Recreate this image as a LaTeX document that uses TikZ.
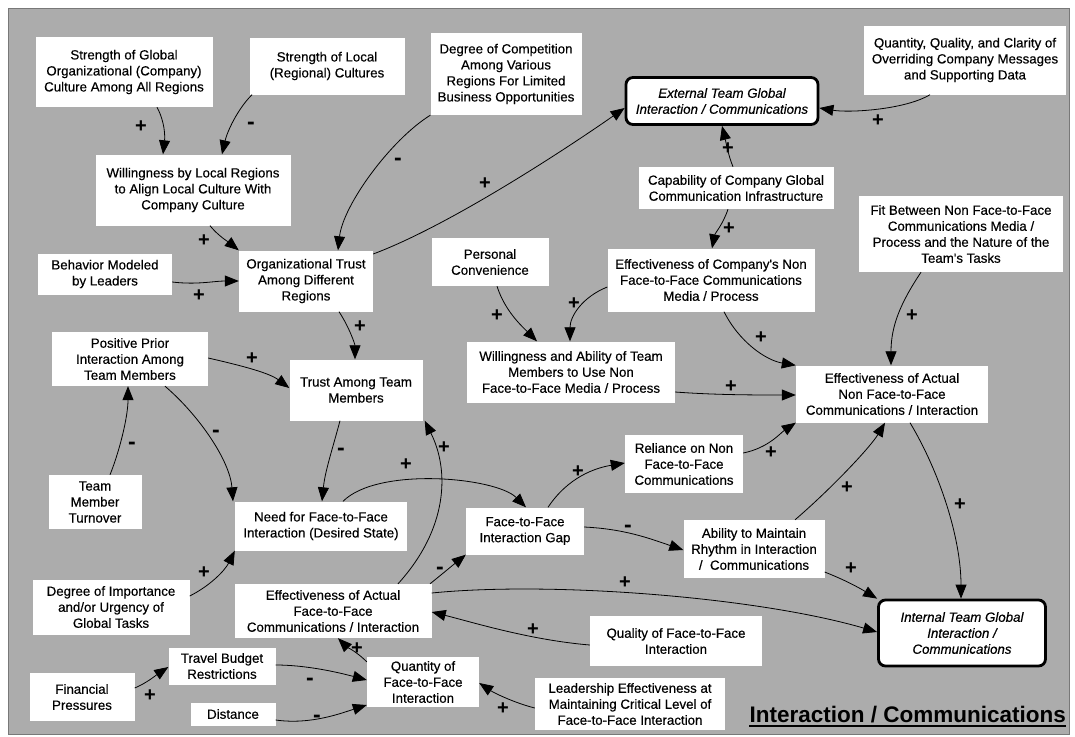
\documentclass[tikz,border=0pt]{standalone}
\usepackage{fontspec}
\setmainfont{Liberation Sans}
\newfontfamily\boxfont{Liberation Sans}[FakeBold=0.35]
\usetikzlibrary{arrows.meta}
\definecolor{panel}{RGB}{172,172,172}
\definecolor{rim}{RGB}{120,120,120}
\begin{document}
\begin{tikzpicture}[x=1pt,y=-1pt,
  box/.style 2 args={fill=white, align=center, inner sep=0pt,
    minimum width=#1pt, minimum height=#2pt,
    font=\boxfont\fontsize{13.3}{16}\selectfont},
  hub/.style 2 args={box={#1}{#2}, draw=black, line width=2.8pt,
    rounded corners=7pt, font=\boxfont\fontsize{13.3}{16}\selectfont\itshape},
  arr/.style={draw=black, line width=0.8pt, -{Triangle[length=14pt,width=11pt]}},
  posl/.style={inner sep=0pt, anchor=base, yshift=-6.8pt,
    font=\bfseries\fontsize{20}{20}\selectfont},
  negl/.style={inner sep=0pt, anchor=base, yshift=-5.6pt,
    font=\bfseries\fontsize{23}{23}\selectfont}]

\useasboundingbox (0,0) rectangle (1075,736);
\fill[white] (0,0) rectangle (1075,736);
\fill[panel] (8,8) rectangle (1069,734);
\draw[rim, line width=0.8pt] (8,8) rectangle (1069,734);

% ---- variables ----
\node[box={177}{70}] (gcult) at (124,72) {Strength of Global\\Organizational (Company)\\Culture Among All Regions};
\node[box={155}{57}] (lcult) at (327,66) {Strength of Local\\(Regional) Cultures};
\node[box={151}{82}] (compet) at (506,74) {Degree of Competition\\Among Various\\Regions For Limited\\Business Opportunities};
\node[hub={192}{47}] (ext) at (722,101) {External Team Global\\Interaction / Communications};
\node[box={202}{69}] (msgs) at (965,60) {Quantity, Quality, and Clarity of\\Overriding Company Messages\\and Supporting Data};
\node[box={195}{71}] (align) at (193,190) {Willingness by Local Regions\\to Align Local Culture With\\Company Culture};
\node[box={195}{42}] (infra) at (736,188) {Capability of Company Global\\Communication Infrastructure};
\node[box={204}{76}] (fit) at (961,234) {Fit Between Non Face-to-Face\\Communications Media /\\Process and the Nature of the\\Team's Tasks};
\node[box={134}{41}] (behav) at (105,274) {Behavior Modeled\\by Leaders};
\node[box={134}{61}] (orgtrust) at (306,281) {Organizational Trust\\Among Different\\Regions};
\node[box={117}{48}] (pers) at (490,262) {Personal\\Convenience};
\node[box={207}{63}] (effco) at (711,280) {Effectiveness of Company's Non\\Face-to-Face Communications\\Media / Process};
\node[box={156}{54}] (prior) at (130,359) {Positive Prior\\Interaction Among\\Team Members};
\node[box={133}{61}] (trust) at (356,390) {Trust Among Team\\Members};
\node[box={208}{61}] (willab) at (571,372) {Willingness and Ability of Team\\Members to Use Non\\Face-to-Face Media / Process};
\node[box={192}{57}] (effnon) at (892,394) {Effectiveness of Actual\\Non Face-to-Face\\Communications / Interaction};
\node[box={93}{54}] (turn) at (95,502) {Team\\Member\\Turnover};
\node[box={172}{49}] (need) at (321,526) {Need for Face-to-Face\\Interaction (Desired State)};
\node[box={118}{58}] (rel) at (684,464) {Reliance on Non\\Face-to-Face\\Communications};
\node[box={118}{47}] (gap) at (525,531) {Face-to-Face\\Interaction Gap};
\node[box={141}{58}] (rhythm) at (754,549) {Ability to Maintain\\Rhythm in Interaction\\/~~Communications};
\node[box={157}{55}] (urg) at (111,607) {Degree of Importance\\and/or Urgency of\\Global Tasks};
\node[box={197}{54}] (efff2f) at (333,611) {Effectiveness of Actual\\Face-to-Face\\Communications / Interaction};
\node[box={172}{50}] (qual) at (676,641) {Quality of Face-to-Face\\Interaction};
\node[hub={167}{66}] (int) at (962,633) {Internal Team Global\\Interaction /\\Communications};
\node[box={107}{37}] (trav) at (222,666) {Travel Budget\\Restrictions};
\node[box={105}{48}] (fin) at (82,697) {Financial\\Pressures};
\node[box={85}{23}] (dist) at (233,714) {Distance};
\node[box={112}{50}] (quant) at (423,682) {Quantity of\\Face-to-Face\\Interaction};
\node[box={190}{52}] (lead) at (630,704) {Leadership Effectiveness at\\Maintaining Critical Level of\\Face-to-Face Interaction};

% ---- causal links ----
\draw[arr] ([xshift=33pt]gcult.south) .. controls +(8,15) and +(2,-18) .. ([xshift=-30pt]align.north);
\draw[arr] ([xshift=-75pt]lcult.south) .. controls +(-15,15) and +(5,-22) .. ([xshift=29pt]align.north);
\draw[arr] ([xshift=17pt]align.south) .. controls +(8,10) and +(-10,-8) .. (orgtrust.north west);
\draw[arr] (compet.south west) .. controls +(-40,25) and +(5,-45) .. ([xshift=32pt]orgtrust.north);
\draw[arr] ([yshift=-8pt]behav.east) .. controls +(25,3) and +(-25,0) .. (orgtrust.west);
\draw[arr] ([yshift=27pt]orgtrust.east) .. controls +(80,-30) and +(-50,35) .. ([yshift=-7pt]ext.west);
\draw[arr] ([xshift=-35pt]msgs.south) .. controls +(-25,15) and +(30,5) .. ([yshift=-7pt]ext.east);
\draw[arr] ([xshift=-3pt]infra.north) .. controls +(-5,-12) and +(3,12) .. (ext.south);
\draw[arr] ([xshift=-8pt]infra.south) .. controls +(-5,15) and +(3,-15) .. ([xshift=1pt]effco.north);
\draw[arr] ([xshift=7pt]pers.south) .. controls +(8,25) and +(-15,-15) .. ([xshift=-34pt]willab.north);
\draw[arr] ([yshift=-7pt]effco.west) .. controls +(-25,10) and +(0,-25) .. ([xshift=-1pt]willab.north);
\draw[arr] ([xshift=-40pt]fit.south) .. controls +(-20,30) and +(0,-40) .. ([xshift=-1pt]effnon.north);
\draw[arr] ([xshift=13pt]effco.south) .. controls +(15,30) and +(-30,-5) .. (effnon.north west);
\draw[arr] ([yshift=-20pt]willab.east) .. controls +(40,3) and +(-40,0) .. ([yshift=-1pt]effnon.west);
\draw[arr] ([xshift=33pt]orgtrust.south) .. controls +(10,15) and +(0,-15) .. ([xshift=-1pt]trust.north);
\draw[arr] ([yshift=1pt]prior.east) .. controls +(35,8) and +(-20,-15) .. ([yshift=2pt]trust.west);
\draw[arr] ([xshift=35pt]prior.south) .. controls +(35,30) and +(-3,-40) .. ([xshift=-88pt]need.north);
\draw[arr] ([xshift=15pt]turn.north) .. controls +(10,-25) and +(0,30) .. ([xshift=-2pt]prior.south);
\draw[arr] ([xshift=-16pt]trust.south) .. controls +(-8,30) and +(3,-30) .. ([xshift=1pt]need.north);
\draw[arr] ([xshift=22pt]need.north) .. controls +(35,-35) and +(-30,-30) .. ([xshift=1pt]gap.north);
\draw[arr] ([xshift=65pt]efff2f.north) .. controls +(50,-55) and +(25,50) .. ([xshift=2pt]trust.south east);
\draw[arr] ([yshift=11pt]urg.east) .. controls +(20,-10) and +(-10,20) .. (need.south west);
\draw[arr] ([xshift=97pt]efff2f.north) .. controls +(10,-8) and +(-10,8) .. (gap.south west);
\draw[arr] ([xshift=23pt]gap.north) .. controls +(20,-30) and +(-30,5) .. ([yshift=1pt]rel.west);
\draw[arr] ([yshift=11pt]rel.east) .. controls +(25,-5) and +(-15,10) .. (effnon.south west);
\draw[arr] ([yshift=4pt]gap.east) .. controls +(40,2) and +(-35,-12) .. ([yshift=-1pt]rhythm.west);
\draw[arr] ([xshift=41pt]rhythm.north) .. controls +(35,-30) and +(-15,25) .. ([xshift=-7pt]effnon.south);
\draw[arr] ([xshift=18pt]effnon.south) .. controls +(30,50) and +(0,-60) .. ([xshift=-1pt]int.north);
\draw[arr] ([yshift=-23pt]rhythm.east) .. controls +(20,8) and +(-20,-12) .. (int.north west);
\draw[arr] ([yshift=18pt]efff2f.east) .. controls +(120,-12) and +(-120,-35) .. ([yshift=1pt]int.west);
\draw[arr] ([yshift=-4pt]qual.west) .. controls +(-60,-5) and +(40,10) .. ([yshift=-1pt]efff2f.east);
\draw[arr] ([yshift=-5pt]quant.north west) .. controls +(-10,-10) and +(8,8) .. ([xshift=5pt]efff2f.south);
\draw[arr] ([yshift=1pt]trav.east) .. controls +(30,0) and +(-30,-8) .. ([yshift=2pt]quant.west);
\draw[arr] ([yshift=-6pt]dist.east) .. controls +(35,5) and +(-25,8) .. ([yshift=-23pt]quant.west);
\draw[arr] ([yshift=9pt]fin.east) .. controls +(12,-5) and +(-12,8) .. ([yshift=-1pt]trav.west);
\draw[arr] ([yshift=-4pt]lead.west) .. controls +(-20,-5) and +(15,10) .. ([yshift=-1pt]quant.east);

% ---- link polarities ----
\node[posl] (p1) at (141,126) {+};
\node[negl] (p2) at (251,124) {-};
\node[posl] (p3) at (204,240) {+};
\node[negl] (p4) at (398,160) {-};
\node[posl] (p5) at (199,295) {+};
\node[posl] (p6) at (485,183) {+};
\node[posl] (p7) at (878,120) {+};
\node[posl] (p8) at (728,148) {+};
\node[posl] (p9) at (729,228) {+};
\node[posl] (p10) at (497,315) {+};
\node[posl] (p11) at (574,303) {+};
\node[posl] (p12) at (912,315) {+};
\node[posl] (p13) at (761,337) {+};
\node[posl] (p14) at (731,386) {+};
\node[posl] (p15) at (360,326) {+};
\node[posl] (p16) at (252,358) {+};
\node[negl] (p17) at (216,432) {-};
\node[negl] (p18) at (132,444) {-};
\node[negl] (p19) at (341,450) {-};
\node[posl] (p20) at (406,464) {+};
\node[posl] (p21) at (444,447) {+};
\node[posl] (p22) at (204,572) {+};
\node[negl] (p23) at (440,569) {-};
\node[posl] (p24) at (578,471) {+};
\node[posl] (p25) at (771,452) {+};
\node[negl] (p26) at (628,527) {-};
\node[posl] (p27) at (847,487) {+};
\node[posl] (p28) at (960,504) {+};
\node[posl] (p29) at (851,568) {+};
\node[posl] (p30) at (625,582) {+};
\node[posl] (p31) at (533,629) {+};
\node[posl] (p32) at (357,648) {+};
\node[negl] (p33) at (310,680) {-};
\node[negl] (p34) at (317,717) {-};
\node[posl] (p35) at (150,695) {+};
\node[posl] (p36) at (503,708) {+};

% ---- title ----
\node[inner sep=0pt, anchor=base east, font=\bfseries\fontsize{22.5}{24}\selectfont] (title) at (1066,722) {Interaction / Communications};
\draw[line width=2pt] ([yshift=-3.5pt]title.base west) -- ([yshift=-3.5pt]title.base east);
\end{tikzpicture}
\end{document}
